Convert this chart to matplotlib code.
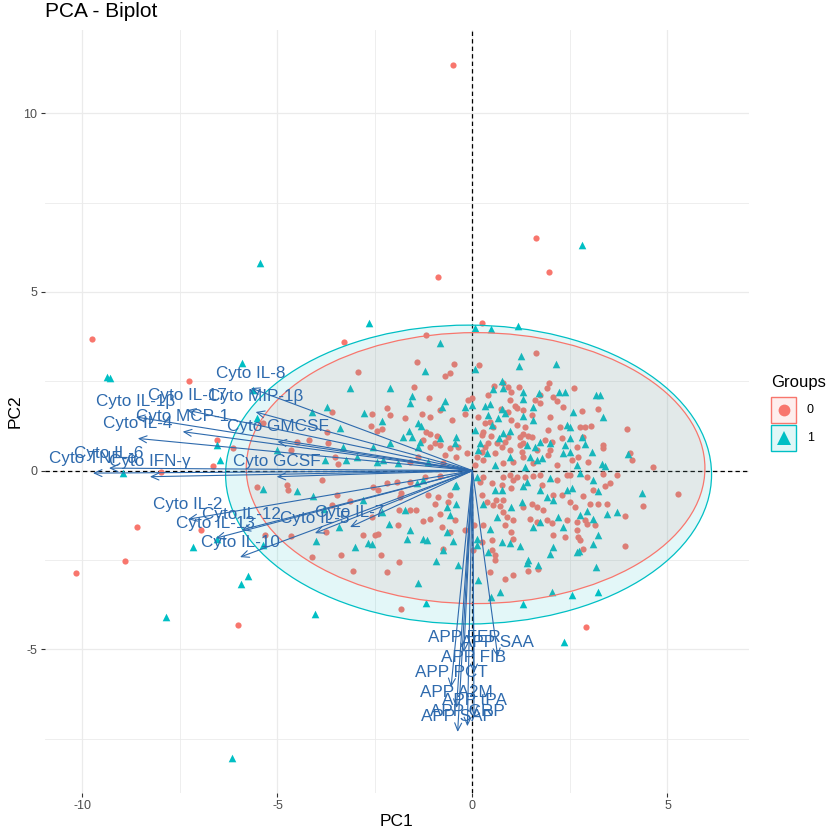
import matplotlib
matplotlib.use("Agg")
import matplotlib.pyplot as plt
from matplotlib.patches import Ellipse, Rectangle
from matplotlib.lines import Line2D

plt.rcParams['font.family'] = ['Liberation Sans', 'DejaVu Sans']

# ---------------- data ----------------
group0_x = [
    -3.29, -1.20, -1.43, -0.47, -0.58, -0.70, -2.94, -1.50, -1.11, -0.11, -2.20, -2.11, -2.58, -1.73, -1.29, -1.09,
    -0.83, -0.53, -0.19, -3.61, -2.60, -2.44, -2.31, -1.20, -1.09, -0.92, -1.26, -0.96, -1.09, -0.83, -0.58, -0.36,
    -0.70, -0.41, -0.15, -3.74, -4.19, -3.71, -4.64, -4.49, -6.56, -6.13, -6.64, -3.53, -3.44, -1.60, -1.39, -0.75, -5.36,
    0.25, 0.17, 1.63, 0.55, 0.79, 0.92, 1.00, 1.19, 1.96, 1.90, 2.61, 0.41, 2.07, 2.18, 1.73, 1.60, 0.96, 1.09, 1.15,
    1.30, 0.72, 0.92, 1.73, 2.33, 2.80, 3.23, 0.15, 1.52, 1.99, 0.98, 0.32, 0.45, 0.53, 0.28, 0.24, 0.47, 1.13, 1.35,
    1.94, 2.24, 2.76, 2.89, 3.03, 3.95, 1.30, 1.43, 1.22, 1.52, 0.92, 0.83, 0.75, 0.62, 0.41, 0.32, 0.24, 0.11, 0.28,
    0.58, 0.96, 1.22, 1.30, 1.26, 1.30, 1.65, 1.86, 2.03, 2.29, 2.84, 2.67, 1.99, 1.94, 2.54, 2.71, 2.97, 3.35, 3.35,
    4.04, 4.08, 4.62, 0.79, 1.05, 1.56, 2.16, 0.06, -0.02,
    -5.53, -4.75, -4.72, -3.87, -3.47, -3.14, -2.54, -2.41, -2.20, -1.94, -1.60, -1.22, -0.84, -1.82, -1.86, -1.13,
    -0.88, -0.96, -0.62, -0.83, -0.45, -1.26, -1.09, -1.88, -1.46, -1.90, -0.79, -0.58, -0.19, -2.50, -2.41, -2.80,
    -3.61, -2.58, -3.76, -5.32, -4.64, -0.75, -2.35, -1.88, -4.12, -3.38, -3.06, -2.20, -1.83, -6.00, -1.60, -0.58,
    0.19, 0.28, 0.49, 0.75, 0.79, 0.96, 1.05, 1.00, 1.13, 1.35, 1.56, 1.73, 1.77, 2.16, 2.42, 2.50, 2.93, 3.35, 3.53,
    3.40, 3.10, 3.70, 5.28, 4.36, 3.91, 3.91, 3.01, 3.21, 3.44, 2.84, 2.50, 2.63, 2.29, 2.07, 0.24, 0.36, 0.53, 0.60,
    0.79, 0.71, 0.79, 0.88, 1.05, 0.28, 0.83, 1.00, 1.03, 0.49, 0.24, 0.49, 0.58, 0.58, 0.45, 0.83, 1.03, 1.43, 1.69,
    1.30, 1.52, 1.47, 1.65, 1.90, 2.03, 2.42, 2.67, 2.88, 2.93, 3.14, 2.37, 2.07, 2.67, 2.71, 2.76, 2.84, 2.91, 1.82,
    1.65, 0.04, 0.02,
    -0.50, 1.62, 1.97, -0.89, -9.76, -7.28, -8.59, -8.91, -10.17, -7.99, -6.96,
]
group0_y = [
    3.60, 3.79, 3.04, 2.99, 2.72, 2.64, 2.76, 2.35, 2.04, 1.97, 1.74, 1.55, 1.57, 1.46, 1.58, 1.51,
    1.69, 1.43, 1.58, 1.65, 1.25, 1.11, 1.16, 1.09, 1.02, 0.97, 0.85, 0.78, 0.67, 0.71, 0.62, 0.67,
    0.43, 0.39, 0.48, 1.09, 0.87, 0.78, 0.59, 0.81, 0.87, 0.62, 0.14, 0.39, 0.18, 0.25, 0.39, 0.20, 1.32,
    4.14, 2.95, 3.28, 2.36, 2.44, 2.33, 2.21, 2.33, 2.46, 2.30, 2.32, 2.11, 2.07, 1.95, 2.11, 1.97, 1.97, 1.80, 1.74,
    1.69, 1.71, 1.65, 1.90, 1.79, 1.67, 1.71, 1.51, 1.55, 1.51, 1.43, 1.32, 1.37, 1.23, 1.09, 1.00, 0.97, 1.27, 1.23,
    1.15, 1.21, 1.21, 1.23, 1.25, 1.16, 1.02, 0.97, 0.95, 0.95, 0.95, 0.81, 0.67, 0.76, 0.76, 0.65, 0.53, 0.39, 0.29,
    0.48, 0.57, 0.71, 0.78, 0.53, 0.39, 0.57, 0.85, 0.81, 0.92, 0.95, 0.67, 0.57, 0.43, 0.29, 0.39, 0.25, 0.71, 0.62,
    0.48, 0.29, 0.10, 0.20, 0.25, 0.20, 0.15, 0.15, 2.02,
    -0.45, -0.41, -0.55, -0.27, -0.69, -0.84, -0.45, -0.55, -0.36, -0.31, -0.31, -0.17, -0.15, -0.64, -0.73, -0.69,
    -0.73, -0.92, -0.87, -1.20, -1.39, -1.40, -1.34, -1.11, -1.11, -1.51, -1.57, -1.71, -1.66, -1.80, -1.78, -1.80,
    -0.97, -1.29, -1.71, -1.79, -1.83, -2.18, -2.35, -2.55, -2.41, -2.36, -2.80, -2.83, -3.88, -4.32, -1.09, -0.69,
    -0.31, -0.17, -0.34, -0.41, -0.17, -0.13, -0.27, -0.50, -0.17, -0.17, -0.15, -0.13, -0.41, -0.27, -0.13, -0.13,
    -0.17, -0.10, -0.34, -0.43, -0.55, -0.13, -0.66, -1.00, -1.27, -2.11, -0.92, -0.92, -0.92, -0.71, -0.87, -1.03,
    -0.69, -0.69, -0.69, -0.87, -0.97, -0.83, -0.83, -0.99, -1.15, -1.29, -1.39, -1.52, -1.52, -1.71, -1.90, -1.93,
    -1.99, -2.22, -2.36, -2.49, -2.83, -3.04, -2.91, -2.81, -2.74, -1.01, -0.92, -1.34, -1.43, -1.39, -1.46, -1.39,
    -1.43, -1.39, -1.48, -1.52, -1.85, -1.79, -1.66, -1.85, -1.94, -2.18, -4.37, -1.11, -1.01, -1.52, -2.22,
    11.36, 6.51, 5.57, 5.41, 3.68, 2.51, -1.59, -2.52, -2.87, -0.04, -1.65,
]

group1_x = [
    -2.65, -5.90, -0.82, -1.22, -3.14, -2.12, -1.56, -1.60, -0.70, -0.77, -0.19, -3.74, -2.78, -2.31, -1.39, -1.32,
    -1.64, -1.77, -1.56, -1.35, -1.39, -0.82, -0.41, -0.45, -2.11, -2.54, -3.31, -3.40, -4.12, -5.53, -6.56, -6.47,
    -5.02, -2.97, -3.23, -2.46, -2.29, -1.90, -1.13, -3.78, -5.62,
    0.06, 0.47, 1.18, 1.24, 1.20, 2.14, 0.06, 0.75, 0.53, 0.77, 1.30, 1.30, 1.71, 2.23, 2.37, 3.18, 3.27, 0.00, 0.32,
    0.45, 0.75, 0.41, 0.83, 1.56, 1.30, 1.56, 2.59, 3.35, 0.66, 0.49, 0.06, 0.96, 0.79, 2.42, 2.50, 2.80, 2.50, 0.69,
    1.39, 1.60, 1.73, 1.99, 2.37, 2.88, 2.33, 2.50, 3.06, 4.00, 0.19, 0.15, 0.36, 0.96, 1.47, 1.65, 1.77, 3.31, 3.40,
    2.67, 1.35, 0.58,
    -5.36, -4.49, -4.08, -3.81, -3.41, -2.80, -2.33, -2.14, -1.73, -1.60, -1.69, -1.26, -1.16, -0.43, -0.66, -0.58,
    -0.66, -0.49, -0.75, -0.36, -0.94, -1.39, -1.19, -3.01, -2.67, -2.58, -4.00, -5.36, -5.75, -5.94, -4.04, -0.41,
    -0.45, -1.43, -1.26,
    0.11, 0.58, 0.75, 1.30, 1.39, 1.73, 1.90, 2.07, 2.42, 2.54, 3.23, 3.10, 1.99, 2.76, 4.34, 3.70, 3.44, 2.93, 2.76,
    3.10, 2.20, 1.73, 1.56, 1.26, 1.00, 0.28, 0.62, 0.45, 0.75, 0.96, 1.22, 0.11, 0.11, 0.41, 1.99, 2.07, 2.67, 2.74,
    3.10, 3.21, 1.43, 1.39, 1.69, 3.18, 0.15, 0.71, 2.03, 2.54, 3.23, 1.29, 0.47, 2.33,
    2.81, -7.86, -6.17, -9.38, -9.30, -8.97, -7.16, -6.54, -5.45, 2.35,
]
group1_y = [
    4.12, 3.02, 3.58, 2.79, 2.32, 2.30, 2.08, 1.88, 1.95, 1.77, 1.77, 1.77, 1.60, 1.38, 1.32, 1.25,
    1.11, 0.95, 0.95, 0.81, 0.67, 0.90, 0.93, 0.76, 0.76, 0.67, 0.67, 1.18, 1.65, 1.46, 0.71, 0.29,
    0.57, 0.39, 0.29, 0.25, 0.29, 0.20, 0.25, 0.29, 2.25,
    3.98, 3.95, 4.04, 3.20, 2.92, 2.98, 2.83, 2.51, 2.27, 2.30, 2.21, 1.99, 2.18, 2.21, 2.21, 2.11, 2.11, 1.83, 1.80,
    1.86, 1.71, 1.55, 1.60, 1.79, 1.53, 1.41, 1.65, 1.51, 1.46, 1.27, 1.13, 1.11, 1.04, 1.27, 1.21, 0.95, 0.90, 0.90,
    0.71, 0.67, 0.81, 0.76, 0.71, 0.74, 0.48, 0.53, 0.53, 0.46, 0.76, 0.57, 0.48, 0.39, 0.39, 0.29, 0.34, 0.18, 0.12,
    0.15, 0.10, 0.15,
    -0.52, -0.56, -0.71, -1.06, -1.59, -0.82, -1.15, -1.48, -1.09, -1.66, -1.90, -1.90, -1.93, -0.92, -1.01, -1.25,
    -1.71, -1.96, -2.22, -2.64, -2.52, -3.14, -3.70, -2.15, -2.02, -2.06, -1.96, -2.08, -2.95, -3.18, -4.02, -0.41,
    -0.43, -0.36, -0.25,
    -0.17, -0.55, -0.53, -0.43, -0.31, -0.55, -0.73, -0.83, -0.55, -0.50, -0.56, -0.27, -0.22, -0.08, -0.62, -1.15,
    -1.20, -1.12, -1.24, -1.34, -1.29, -1.43, -1.57, -0.87, -1.01, -0.92, -1.29, -1.62, -1.99, -2.02, -2.11, -1.90,
    -2.08, -2.27, -2.32, -2.15, -2.27, -2.24, -2.04, -1.81, -2.50, -2.58, -2.64, -2.69, -3.06, -3.39, -3.39, -3.48,
    -3.39, -3.73, -3.53, -1.57,
    6.31, -4.10, -8.04, 2.62, 2.60, -0.06, -2.13, -1.92, 5.82, -4.80,
]

group_labels = ["0", "1"]
group_colors = ["#F8766D", "#00BFC4"]
ellipse_cx = [0.08, -0.10]
ellipse_cy = [0.07, -0.11]
ellipse_half_w = [5.88, 6.23]
ellipse_half_h = [3.79, 4.18]

var_names = ["Cyto IL-8", "Cyto IL-17", "Cyto MIP-1β", "Cyto IL-1β", "Cyto MCP-1", "Cyto IL-4",
             "Cyto GMCSF", "Cyto IL-6", "Cyto TNF-α", "Cyto IFN-γ", "Cyto GCSF", "Cyto IL-2",
             "Cyto IL-12", "Cyto IL-13", "Cyto IL-10", "Cyto IL-5", "Cyto IL-7",
             "APP FER", "APP SAA", "APP FIB", "APP PCT", "APP A2M", "APP tPA", "APP CRP", "APP SAP"]
var_pc1 = [-5.68, -7.32, -5.56, -8.63, -7.43, -8.58, -5.00, -9.32, -9.73, -8.27, -5.02, -7.29,
           -5.92, -6.58, -5.96, -4.04, -3.14,
           -0.22, 0.65, 0.04, -0.55, -0.41, 0.04, -0.13, -0.38]
var_pc2 = [2.31, 1.69, 1.64, 1.50, 1.09, 0.90, 0.81, 0.07, -0.07, -0.17, -0.17, -1.36,
           -1.66, -1.89, -2.42, -1.75, -1.58,
           -5.08, -5.22, -5.66, -6.06, -6.64, -6.84, -7.15, -7.31]

x_ticks = [-10, -5, 0, 5]
y_ticks = [-5, 0, 5, 10]
x_minor = [-7.5, -2.5, 2.5]
y_minor = [-7.5, -2.5, 2.5, 7.5]

# ---------------- figure ----------------
W, H = 829, 834
fig = plt.figure(figsize=(W / 100, H / 100), dpi=100)
fig.patch.set_facecolor("white")

def fx(px):
    return px / W

def fy(py):
    return 1 - py / H

ax = fig.add_axes([fx(45), fy(792.7), (749 - 45) / W, (792.7 - 29.5) / H])
ax.set_xlim(-10.96, 7.09)
ax.set_ylim(-9.01, 12.34)
for s in ax.spines.values():
    s.set_visible(False)

grid_col = "#EBEBEB"
for v in x_ticks:
    ax.axvline(v, color=grid_col, lw=0.9, zorder=0)
for v in x_minor:
    ax.axvline(v, color=grid_col, lw=0.6, zorder=0)
for v in y_ticks:
    ax.axhline(v, color=grid_col, lw=0.9, zorder=0)
for v in y_minor:
    ax.axhline(v, color=grid_col, lw=0.6, zorder=0)

ax.set_xticks(x_ticks)
ax.set_yticks(y_ticks)
ax.set_xticklabels([str(t) for t in x_ticks])
ax.set_yticklabels([str(t) for t in y_ticks])
ax.tick_params(length=3, width=0.8, color="#333333", labelsize=9,
               labelcolor="#4D4D4D", pad=2.5)

# zero lines
ax.axhline(0, color="black", lw=0.9, ls=(0, (3.5, 2.5)), zorder=2)
ax.axvline(0, color="black", lw=0.9, ls=(0, (3.5, 2.5)), zorder=2)

# points
ax.scatter(group0_x, group0_y, s=20, marker="o", color=group_colors[0], linewidths=0, zorder=3)
ax.scatter(group1_x, group1_y, s=30, marker="^", color=group_colors[1], linewidths=0, zorder=3)

# ellipses
for i in range(2):
    e = Ellipse((ellipse_cx[i], ellipse_cy[i]), 2 * ellipse_half_w[i], 2 * ellipse_half_h[i],
                facecolor=group_colors[i], alpha=0.11, edgecolor="none", zorder=4)
    ax.add_patch(e)
    e2 = Ellipse((ellipse_cx[i], ellipse_cy[i]), 2 * ellipse_half_w[i], 2 * ellipse_half_h[i],
                 facecolor="none", edgecolor=group_colors[i], lw=0.9, zorder=4.1)
    ax.add_patch(e2)

# variable arrows
arrow_col = "#2E6AAD"
for name, vx, vy in zip(var_names, var_pc1, var_pc2):
    ax.annotate("", xy=(vx, vy), xytext=(0, 0),
                arrowprops=dict(arrowstyle="->,head_length=0.55,head_width=0.25",
                                color=arrow_col, lw=0.8, shrinkA=0, shrinkB=0),
                zorder=5)
    ax.annotate(name, xy=(vx, vy), xytext=(0, 10.8), textcoords="offset points",
                ha="center", va="center", fontsize=12.3, color=arrow_col, zorder=6)

# titles
fig.text(fx(45.5), fy(17), "PCA - Biplot", fontsize=15, ha="left", va="baseline", color="black")
fig.text(fx(397), fy(822), "PC1", fontsize=12.5, ha="center", va="center", color="black")
fig.text(fx(15), fy(411), "PC2", fontsize=12.5, ha="center", va="center", rotation=90, color="black")

# legend
fig.text(fx(771), fy(382), "Groups", fontsize=12, ha="left", va="center", color="black")
key_markers = ["o", "^"]
key_sizes = [8.5, 10]
for i in range(2):
    top = 397.5 + i * 27.5
    rect = Rectangle((fx(771), fy(top + 25.5)), 25.5 / W, 25.5 / H, transform=fig.transFigure,
                     facecolor=group_colors[i], alpha=0.12, edgecolor="none")
    fig.add_artist(rect)
    rect2 = Rectangle((fx(771), fy(top + 25.5)), 25.5 / W, 25.5 / H, transform=fig.transFigure,
                      facecolor="none", edgecolor=group_colors[i], lw=1.0)
    fig.add_artist(rect2)
    fig.add_artist(Line2D([fx(784)], [fy(top + 12.75)], transform=fig.transFigure,
                          marker=key_markers[i], markersize=key_sizes[i], color=group_colors[i],
                          markeredgewidth=0, linestyle="none"))
    fig.text(fx(807), fy(top + 12.75), group_labels[i], fontsize=9, ha="left", va="center", color="black")

fig.savefig("out.png", dpi=100)
